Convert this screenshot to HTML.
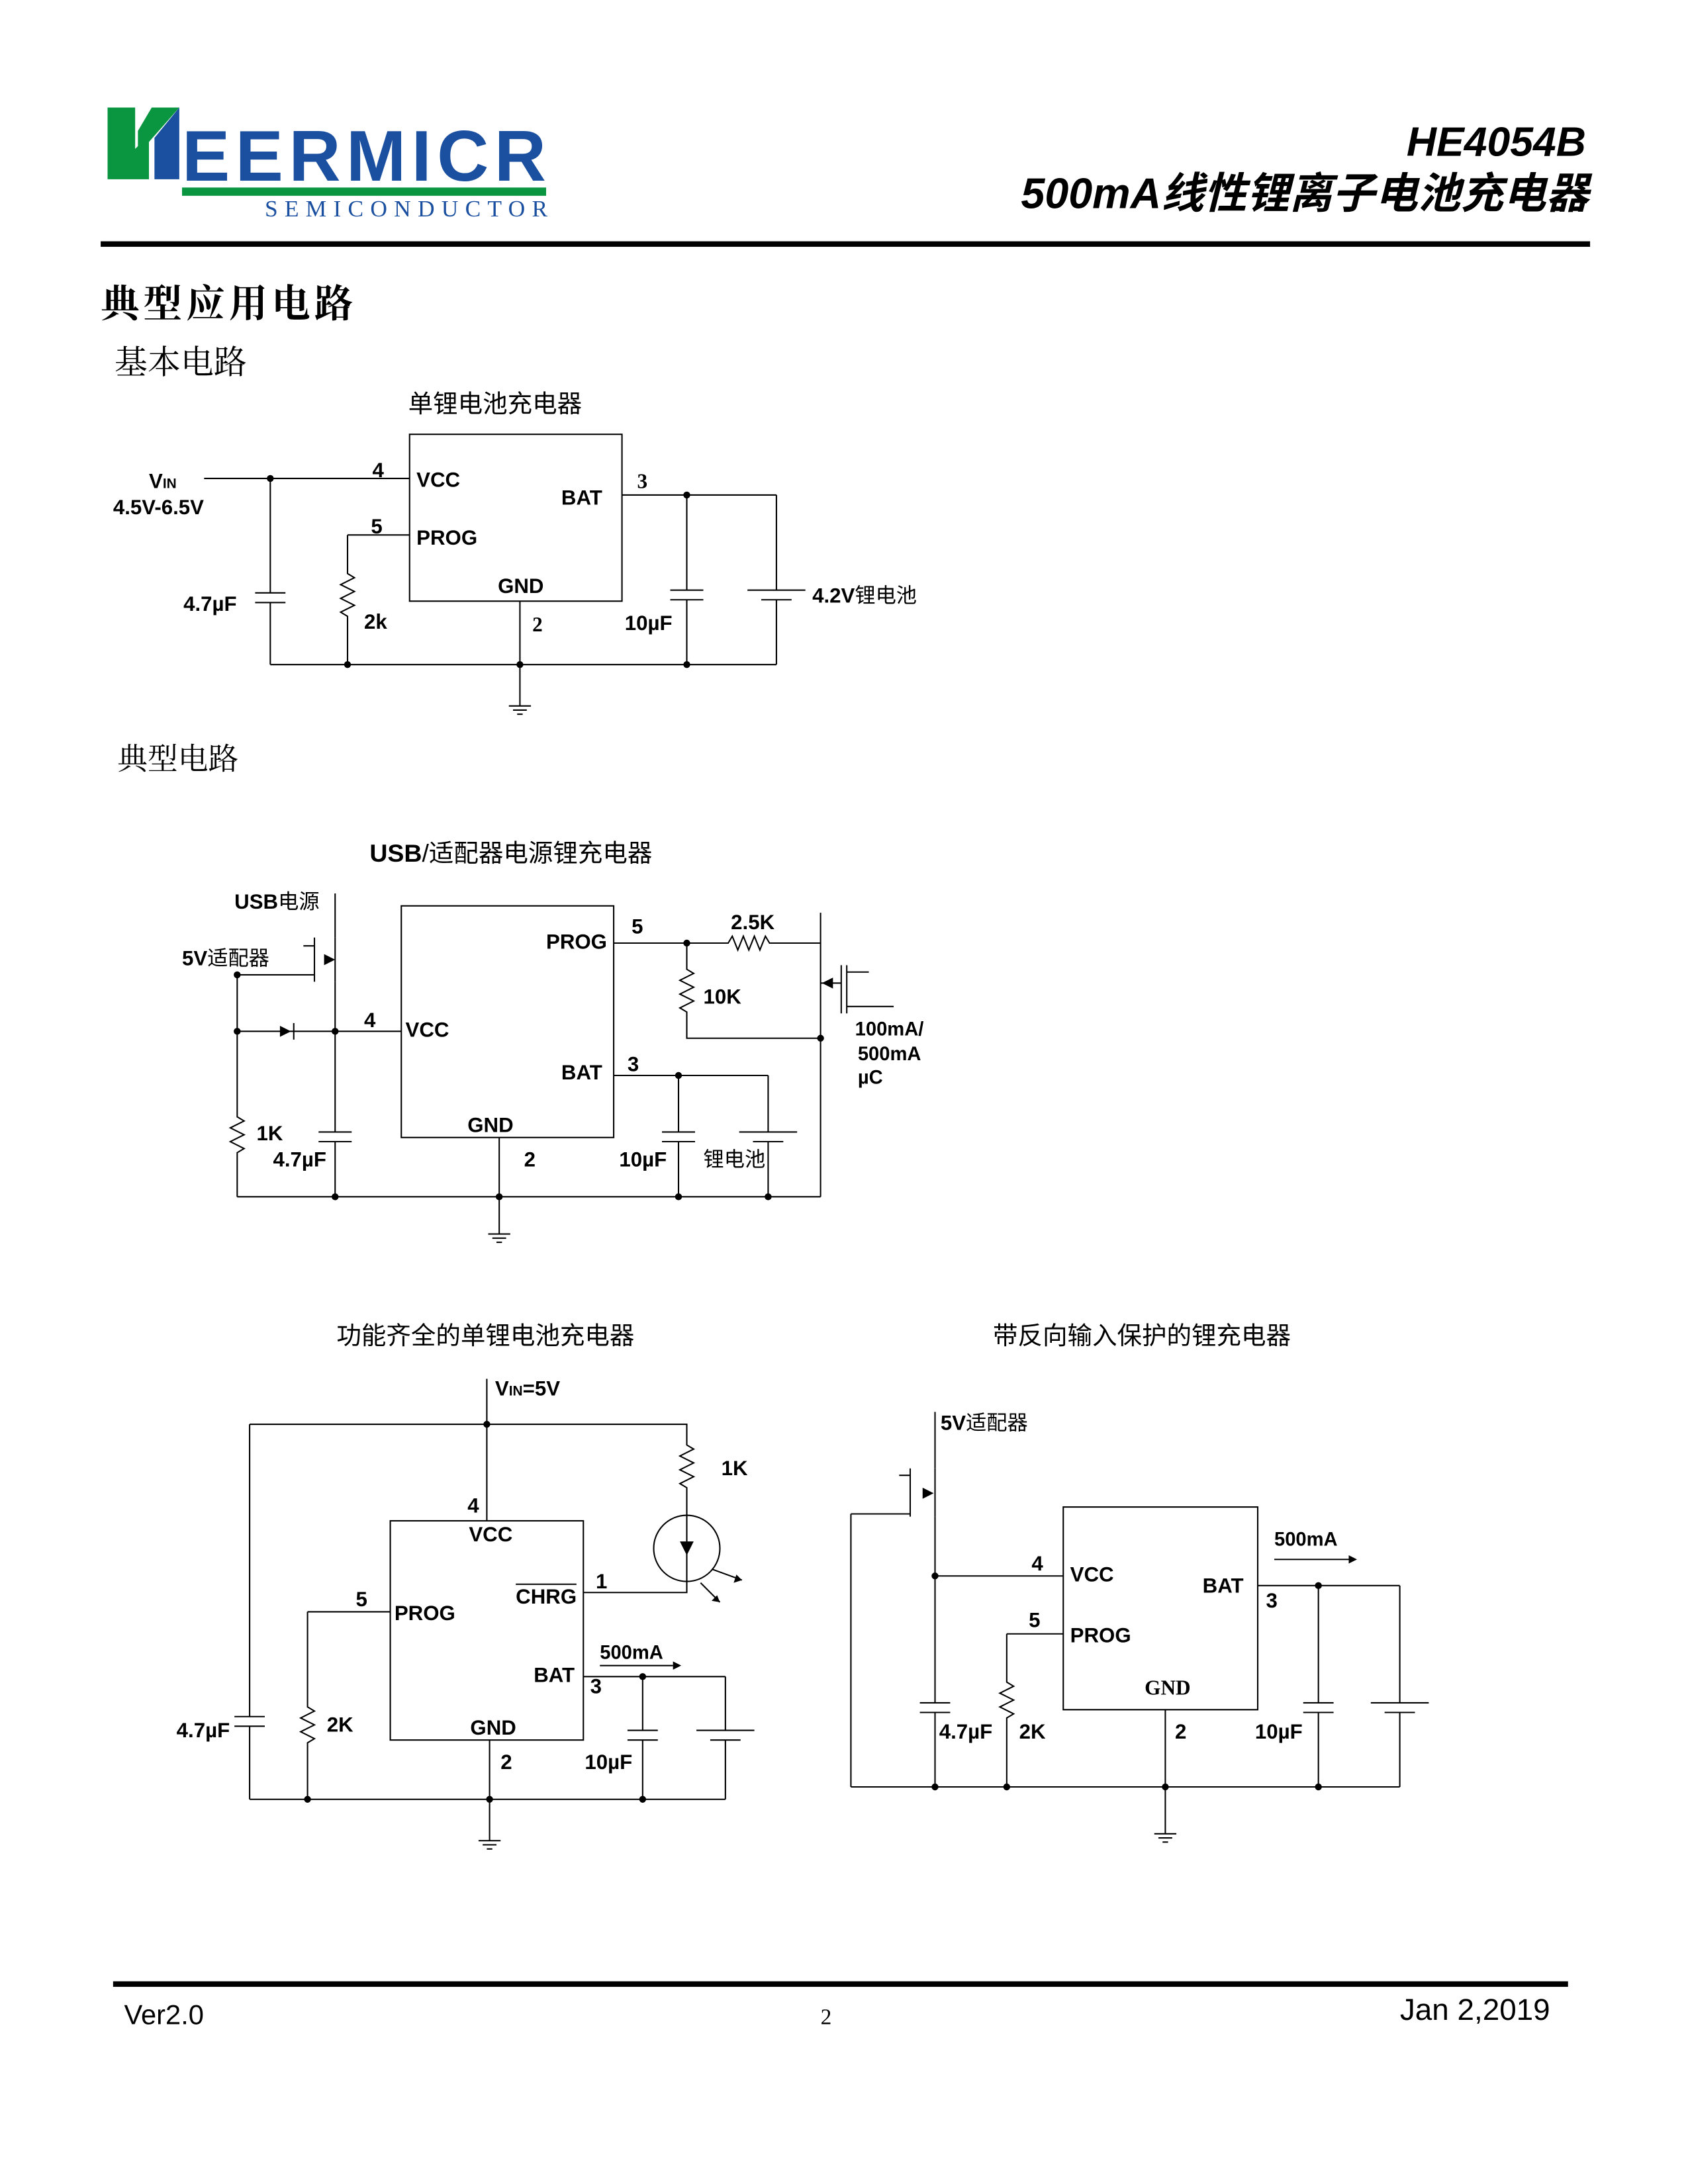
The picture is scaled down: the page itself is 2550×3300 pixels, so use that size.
<!DOCTYPE html>
<html><head><meta charset="utf-8"><style>
html,body{margin:0;padding:0;background:#fff}
svg{display:block}
text{font-family:"Liberation Sans","Noto Sans CJK SC",sans-serif;fill:#000}
.b{font-weight:bold}
</style></head><body>
<svg width="2550" height="3300" viewBox="0 0 1224 1584" xmlns="http://www.w3.org/2000/svg">
<rect width="1224" height="1584" fill="#fff"/>
<!-- header logo -->
<polygon points="78,78 98,78 98,108 108,98 108,130 78,130" fill="#0a9640"/>
<polygon points="110,78 130,78 100,112 100,95" fill="#0a9640"/>
<polygon points="112,100 130,78 130,130 112,130" fill="#1b4fa0"/>
<text x="132" y="131" font-size="52" font-weight="bold" fill="#1b4fa0" style="fill:#1b4fa0" textLength="264">EERMICR</text>
<rect x="132" y="136" width="264" height="6" fill="#0a9640"/>
<text x="192" y="157" font-size="17" style="fill:#1b4fa0;font-family:'Liberation Serif',serif" textLength="205">SEMICONDUCTOR</text>
<text x="1150" y="113" font-size="30" font-weight="bold" font-style="italic" text-anchor="end">HE4054B</text>
<text x="1152" y="151" font-size="31" font-weight="bold" font-style="italic" text-anchor="end">500mA线性锂离子电池充电器</text>
<rect x="73" y="175" width="1080" height="4" fill="#000"/>
<text x="73" y="230" font-size="28" font-weight="bold" letter-spacing="3" style="font-family:'Noto Serif CJK SC',serif">典型应用电路</text>
<text x="83" y="271" font-size="24" style="font-family:'Noto Serif CJK SC',serif">基本电路</text>
<text x="85" y="558" font-size="22" style="font-family:'Noto Serif CJK SC',serif">典型电路</text>

<g stroke="#000" stroke-width="1" fill="none">
<!-- circuit 1 -->
<rect x="297" y="315" width="154" height="121"/>
<polyline points="148,347 297,347"/>
<polyline points="252,388 297,388"/>
<polyline points="252,388 252,416 257,419 247,424 257,429 247,434 257,439 247,444 252,447 252,482"/>
<polyline points="196,347 196,430"/><line x1="185" y1="430" x2="207" y2="430"/><line x1="185" y1="437" x2="207" y2="437"/><polyline points="196,437 196,482"/>
<polyline points="377,436 377,512"/>
<line x1="369" y1="512" x2="385" y2="512"/><line x1="372" y1="515" x2="382" y2="515"/><line x1="375" y1="518" x2="379" y2="518"/>
<polyline points="196,482 563,482"/>
<polyline points="451,359 563,359"/>
<polyline points="498,359 498,428"/><line x1="486" y1="428" x2="510" y2="428"/><line x1="486" y1="435" x2="510" y2="435"/><polyline points="498,435 498,482"/>
<polyline points="563,359 563,428"/><line x1="542" y1="428" x2="584" y2="428"/><line x1="552" y1="435" x2="574" y2="435"/><polyline points="563,435 563,482"/>

<!-- circuit 2 -->
<rect x="291" y="657" width="154" height="168"/>
<polyline points="445,684 528,684 531,679 535,689 539,679 543,689 547,679 551,689 555,679 558,684 595,684"/>
<polyline points="498,684 498,703 503,706 493,711 503,716 493,721 503,726 493,731 498,734 498,753 595,753"/>
<polyline points="595,662 595,868"/>
<polyline points="595,713 610,713"/><line x1="610" y1="700" x2="610" y2="735"/><line x1="614" y1="700" x2="614" y2="735"/><polyline points="614,705 630,705"/><polyline points="614,730 648,730"/>
<polyline points="445,780 557,780"/>
<polyline points="492,780 492,821"/><line x1="480" y1="821" x2="504" y2="821"/><line x1="480" y1="828" x2="504" y2="828"/><polyline points="492,828 492,868"/>
<polyline points="557,780 557,821"/><line x1="536" y1="821" x2="578" y2="821"/><line x1="546" y1="828" x2="568" y2="828"/><polyline points="557,828 557,868"/>
<polyline points="243,748 291,748"/>
<polyline points="243,648 243,680"/><line x1="243" y1="680" x2="243" y2="712"/><line x1="228" y1="680" x2="228" y2="712"/><polyline points="228,686 220,686"/>
<polyline points="172,707 228,707"/>
<polyline points="243,712 243,821"/><line x1="231" y1="821" x2="255" y2="821"/><line x1="231" y1="828" x2="255" y2="828"/><polyline points="243,828 243,868"/>
<polyline points="172,707 172,810 177,813 167,818 177,823 167,828 177,833 172,836 172,868"/>
<polyline points="172,748 243,748"/>
<line x1="213" y1="742" x2="213" y2="754"/>
<polyline points="172,868 595,868"/>
<polyline points="362,825 362,895"/>
<line x1="354" y1="895" x2="370" y2="895"/><line x1="357" y1="898" x2="367" y2="898"/><line x1="360" y1="901" x2="364" y2="901"/>

<!-- circuit 3 -->
<rect x="283" y="1103" width="140" height="159"/>
<polyline points="353,1000 353,1103"/>
<polyline points="181,1033 498,1033 498,1048 503,1051 493,1056 503,1061 493,1066 503,1071 493,1076 498,1079 498,1155 423,1155"/>
<circle cx="498" cy="1123" r="24"/>
<polyline points="223,1169 283,1169"/>
<polyline points="223,1169 223,1238 228,1241 218,1246 228,1251 218,1256 228,1261 223,1264 223,1305"/>
<polyline points="181,1033 181,1245"/><line x1="170" y1="1245" x2="192" y2="1245"/><line x1="170" y1="1252" x2="192" y2="1252"/><polyline points="181,1252 181,1305"/>
<polyline points="423,1216 526,1216"/>
<line x1="435" y1="1208" x2="488" y2="1208"/>
<polyline points="466,1216 466,1255"/><line x1="455" y1="1255" x2="477" y2="1255"/><line x1="455" y1="1262" x2="477" y2="1262"/><polyline points="466,1262 466,1305"/>
<polyline points="526,1216 526,1255"/><line x1="505" y1="1255" x2="547" y2="1255"/><line x1="515" y1="1262" x2="537" y2="1262"/><polyline points="526,1262 526,1305"/>
<polyline points="181,1305 526,1305"/>
<polyline points="355,1262 355,1335"/>
<line x1="347" y1="1335" x2="363" y2="1335"/><line x1="350" y1="1338" x2="360" y2="1338"/><line x1="353" y1="1341" x2="357" y2="1341"/>
<line x1="516" y1="1138" x2="538" y2="1146"/><line x1="508" y1="1148" x2="522" y2="1162"/>

<!-- circuit 4 -->
<rect x="771" y="1093" width="141" height="147"/>
<polyline points="678,1024 678,1065"/><line x1="678" y1="1065" x2="678" y2="1100"/><line x1="660" y1="1065" x2="660" y2="1100"/><polyline points="660,1070 652,1070"/>
<polyline points="617,1098 660,1098"/>
<polyline points="617,1098 617,1296"/>
<polyline points="678,1100 678,1235"/><line x1="667" y1="1235" x2="689" y2="1235"/><line x1="667" y1="1242" x2="689" y2="1242"/><polyline points="678,1242 678,1296"/>
<polyline points="678,1143 771,1143"/>
<polyline points="730,1185 771,1185"/>
<polyline points="730,1185 730,1220 735,1223 725,1228 735,1233 725,1238 735,1243 730,1246 730,1296"/>
<polyline points="912,1150 1015,1150"/>
<line x1="924" y1="1131" x2="978" y2="1131"/>
<polyline points="956,1150 956,1235"/><line x1="945" y1="1235" x2="967" y2="1235"/><line x1="945" y1="1242" x2="967" y2="1242"/><polyline points="956,1242 956,1296"/>
<polyline points="1015,1150 1015,1235"/><line x1="994" y1="1235" x2="1036" y2="1235"/><line x1="1004" y1="1242" x2="1026" y2="1242"/><polyline points="1015,1242 1015,1296"/>
<polyline points="617,1296 1015,1296"/>
<polyline points="845,1240 845,1330"/>
<line x1="837" y1="1330" x2="853" y2="1330"/><line x1="840" y1="1333" x2="850" y2="1333"/><line x1="843" y1="1336" x2="847" y2="1336"/>
</g>
<g fill="#000">
<circle cx="196" cy="347" r="2.5"/><circle cx="252" cy="482" r="2.5"/><circle cx="377" cy="482" r="2.5"/><circle cx="498" cy="482" r="2.5"/><circle cx="498" cy="359" r="2.5"/>
<circle cx="498" cy="684" r="2.5"/><circle cx="595" cy="753" r="2.5"/><circle cx="492" cy="780" r="2.5"/><circle cx="243" cy="748" r="2.5"/><circle cx="172" cy="707" r="2.5"/><circle cx="172" cy="748" r="2.5"/>
<circle cx="243" cy="868" r="2.5"/><circle cx="362" cy="868" r="2.5"/><circle cx="492" cy="868" r="2.5"/><circle cx="557" cy="868" r="2.5"/>
<circle cx="353" cy="1033" r="2.5"/><circle cx="466" cy="1216" r="2.5"/><circle cx="223" cy="1305" r="2.5"/><circle cx="355" cy="1305" r="2.5"/><circle cx="466" cy="1305" r="2.5"/>
<circle cx="678" cy="1143" r="2.5"/><circle cx="956" cy="1150" r="2.5"/><circle cx="678" cy="1296" r="2.5"/><circle cx="730" cy="1296" r="2.5"/><circle cx="845" cy="1296" r="2.5"/><circle cx="956" cy="1296" r="2.5"/>
<polygon points="235,692 243,696 235,700"/>
<polygon points="596,713 604,709 604,717"/>
<polygon points="669,1079 677,1083 669,1087"/>
<polygon points="203,744 211,748 203,752"/>
<polygon points="493,1118 503,1118 498,1128"/>
<polygon points="488,1205 494,1208 488,1211"/><polygon points="978,1128 984,1131 978,1134"/>
<polygon points="538,1146 532,1148 534,1142"/><polygon points="522,1162 516,1161 520,1157"/>
</g>
<g font-size="15" class="b" font-weight="bold">
<text x="108" y="354">V<tspan font-size="10">IN</tspan></text>
<text x="82" y="373">4.5V-6.5V</text>
<text x="270" y="346">4</text><text x="269" y="387">5</text>
<text x="302" y="353">VCC</text><text x="302" y="395">PROG</text><text x="407" y="366">BAT</text><text x="361" y="430">GND</text>
<text x="462" y="354" style="font-family:'Liberation Serif',serif">3</text>
<text x="386" y="458" style="font-family:'Liberation Serif',serif">2</text>
<text x="133" y="443">4.7µF</text><text x="264" y="456">2k</text><text x="453" y="457">10µF</text>
<text x="589" y="437">4.2V<tspan font-weight="normal">锂电池</tspan></text>

<text x="170" y="659">USB<tspan font-weight="normal">电源</tspan></text>
<text x="132" y="700">5V<tspan font-weight="normal">适配器</tspan></text>
<text x="396" y="688">PROG</text><text x="294" y="752">VCC</text><text x="407" y="783">BAT</text><text x="339" y="821">GND</text>
<text x="458" y="677">5</text><text x="264" y="745">4</text><text x="455" y="777">3</text><text x="380" y="846">2</text>
<text x="530" y="674">2.5K</text><text x="510" y="728">10K</text>
<text x="620" y="751" font-size="14">100mA/</text><text x="622" y="769" font-size="14">500mA</text><text x="622" y="786" font-size="14">µC</text>
<text x="186" y="827">1K</text><text x="198" y="846">4.7µF</text><text x="449" y="846">10µF</text>
<text x="510" y="846" font-weight="normal">锂电池</text>

<text x="359" y="1012">V<tspan font-size="10">IN</tspan>=5V</text>
<text x="523" y="1070">1K</text>
<text x="339" y="1097">4</text><text x="340" y="1118">VCC</text>
<text x="374" y="1163">CHRG</text><line x1="374" y1="1149" x2="418" y2="1149" stroke="#000"/>
<text x="432" y="1152">1</text><text x="258" y="1165">5</text>
<text x="286" y="1175">PROG</text><text x="387" y="1220">BAT</text><text x="341" y="1258">GND</text>
<text x="435" y="1203" font-size="14">500mA</text><text x="428" y="1228">3</text><text x="363" y="1283">2</text>
<text x="128" y="1260">4.7µF</text><text x="237" y="1256">2K</text><text x="424" y="1283">10µF</text>

<text x="682" y="1037">5V<tspan font-weight="normal">适配器</tspan></text>
<text x="748" y="1139">4</text><text x="776" y="1147">VCC</text><text x="746" y="1180">5</text><text x="776" y="1191">PROG</text>
<text x="872" y="1155">BAT</text><text x="918" y="1166">3</text><text x="830" y="1229" style="font-family:'Liberation Serif',serif">GND</text>
<text x="924" y="1121" font-size="14">500mA</text>
<text x="681" y="1261">4.7µF</text><text x="739" y="1261">2K</text><text x="852" y="1261">2</text><text x="910" y="1261">10µF</text>
</g>
<g font-size="18">
<text x="296" y="299">单锂电池充电器</text>
<text x="268" y="625"><tspan font-weight="bold">USB</tspan>/适配器电源锂充电器</text>
<text x="244" y="975">功能齐全的单锂电池充电器</text>
<text x="720" y="975">带反向输入保护的锂充电器</text>
</g>
<rect x="82" y="1437" width="1055" height="4" fill="#000"/>
<text x="90" y="1468" font-size="20">Ver2.0</text>
<text x="595" y="1468" font-size="16" style="font-family:'Liberation Serif',serif">2</text>
<text x="1124" y="1465" font-size="22" text-anchor="end">Jan 2,2019</text>
</svg>
</body></html>
